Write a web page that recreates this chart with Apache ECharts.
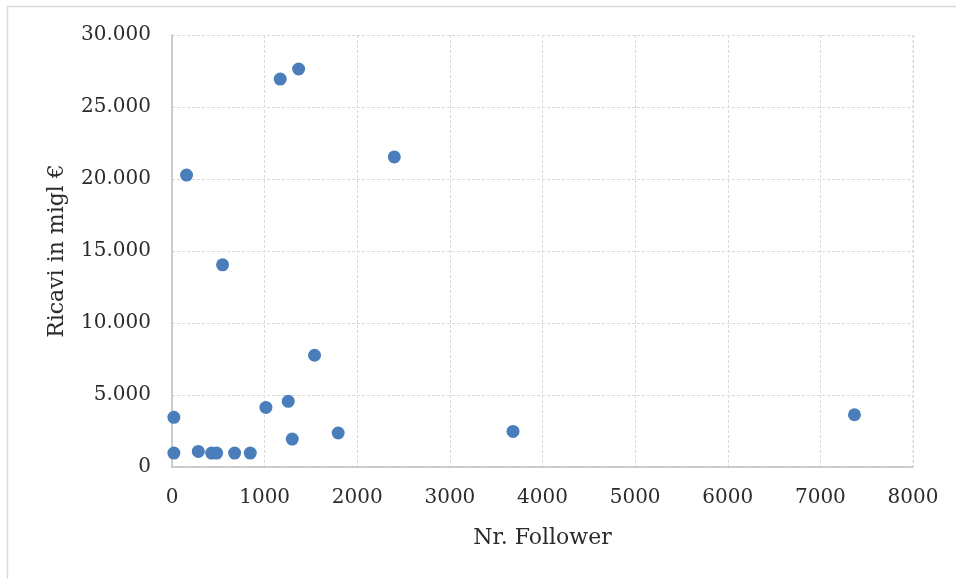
<!DOCTYPE html>
<html>
<head>
<meta charset="utf-8">
<script src="https://cdn.jsdelivr.net/npm/echarts@6/dist/echarts.min.js"></script>
<style>
  html, body { margin: 0; padding: 0; background: #ffffff; }
  #chart { width: 956px; height: 579px; }
</style>
</head>
<body>
<div id="chart"></div>
<script>
// Followers per company and revenue (thousands of euro)
const followers = [20, 20, 284, 428, 482, 676, 845, 1014, 1255, 1298, 1794, 3682, 7368, 1539, 546, 157, 1168, 1367, 2400];
const revenue   = [3450, 970, 1080, 970, 970, 970, 970, 4140, 4560, 1940, 2360, 2470, 3630, 7760, 14040, 20270, 26940, 27640, 21530];

const xTitle = 'Nr. Follower';
const yTitle = 'Ricavi in migl €';

const points = followers.map((f, i) => [f, revenue[i]]);

const fontFamily = '"DejaVu Serif", serif';
const textColor = '#2b2b2b';
const gridColor = '#d9d9d9';
const axisColor = '#bfbfbf';

// thousands separated by a dot, no separator on the x axis
const fmtY = v => v === 0 ? '0' : String(v).replace(/\B(?=(\d{3})+(?!\d))/g, '.');
const fmtX = v => String(v);

const chart = echarts.init(document.getElementById('chart'), null, { renderer: 'canvas' });

chart.setOption({
  backgroundColor: '#ffffff',
  animation: false,
  grid: { left: 172, right: 43, top: 35, bottom: 112, containLabel: false },
  xAxis: {
    type: 'value',
    min: 0, max: 8000, interval: 1000,
    name: xTitle,
    nameLocation: 'middle',
    nameGap: 60,
    nameTextStyle: { fontFamily, fontSize: 22, color: textColor },
    axisLine: { show: true, lineStyle: { color: axisColor, width: 1.5 } },
    axisTick: { show: false },
    axisLabel: { fontFamily, fontSize: 20, color: textColor, margin: 21, formatter: fmtX },
    splitLine: { show: true, lineStyle: { color: gridColor, type: [3, 2], width: 1 } }
  },
  yAxis: {
    type: 'value',
    min: 0, max: 30000, interval: 5000,
    name: yTitle,
    nameLocation: 'middle',
    nameGap: 104,
    nameRotate: 90,
    nameTextStyle: { fontFamily, fontSize: 22, color: textColor },
    axisLine: { show: true, lineStyle: { color: axisColor, width: 1.5 } },
    axisTick: { show: false },
    axisLabel: { fontFamily, fontSize: 20, color: textColor, margin: 21, formatter: fmtY },
    splitLine: { show: true, lineStyle: { color: gridColor, type: [3, 2], width: 1 } }
  },
  graphic: [
    { type: 'line', shape: { x1: 7, y1: 6.5, x2: 956, y2: 6.5 }, style: { stroke: '#d9d9d9', lineWidth: 1.5 } },
    { type: 'line', shape: { x1: 7.5, y1: 6, x2: 7.5, y2: 579 }, style: { stroke: '#d9d9d9', lineWidth: 1.5 } },
    { type: 'line', shape: { x1: 913, y1: 35, x2: 913, y2: 467 }, style: { stroke: gridColor, lineWidth: 1, lineDash: [3, 2] } }
  ],
  series: [{
    type: 'scatter',
    data: points,
    symbol: 'circle',
    symbolSize: 13,
    itemStyle: { color: '#4a7ebb', opacity: 1 }
  }]
});
</script>
</body>
</html>
